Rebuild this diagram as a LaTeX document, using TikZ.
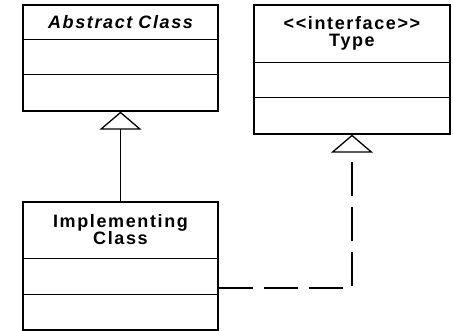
\documentclass[tikz,border=0pt]{standalone}
\usepackage{fontspec}
\setmainfont{Liberation Sans}
\newfontfamily\umlfont[LetterSpace=9]{Liberation Sans}
\usetikzlibrary{arrows.meta,positioning}
\tikzset{
  classbox/.style={draw, line width=1.3pt, inner sep=0pt, minimum width=195pt},
  classname/.style={anchor=north, align=center, inner sep=0pt, text width=190pt,
    font=\umlfont\fontsize{18}{17}\selectfont\bfseries},
  divider/.style={line width=1.3pt},
  inherit/.style={line width=1.3pt, -{Triangle[open, length=18pt, width=42pt, line width=1.3pt]}},
  realize/.style={inherit, dash pattern=on 34pt off 11pt}
}
\begin{document}
\begin{tikzpicture}[x=1pt, y=1pt]
      \useasboundingbox (0,0) rectangle (453,331);
      % class boxes
      \node[classbox, minimum height=106pt] (abs) at (120.5,273) {};
      \node[classbox, minimum width=196pt, minimum height=129pt] (iface) at (352,261.5) {};
      \node[classbox, minimum height=128pt] (impl) at (120.5,65) {};
      % names
      \node[classname, minimum height=35pt] (absname) at (abs.north) {\itshape Abstract Class};
      \node[classname, minimum height=58pt] (ifacename) at (iface.north) {<<interface>>\\Type};
      \node[classname, minimum height=57pt] (implname) at (impl.north) {Implementing\\Class};
      % compartments
      \draw[divider] (abs.west |- absname.south) -- (abs.east |- absname.south);
      \draw[divider] ([yshift=-35pt]abs.west |- absname.south) -- ([yshift=-35pt]abs.east |- absname.south);
      \draw[divider] (iface.west |- ifacename.south) -- (iface.east |- ifacename.south);
      \draw[divider] ([yshift=-35pt]iface.west |- ifacename.south) -- ([yshift=-35pt]iface.east |- ifacename.south);
      \draw[divider] (impl.west |- implname.south) -- (impl.east |- implname.south);
      \draw[divider] ([yshift=-36pt]impl.west |- implname.south) -- ([yshift=-36pt]impl.east |- implname.south);
      % relations
      \draw[inherit] (impl.north) -- (abs.south);
      \draw[realize] ([yshift=-22pt]impl.east) -| (iface.south);
    \end{tikzpicture}
\end{document}
